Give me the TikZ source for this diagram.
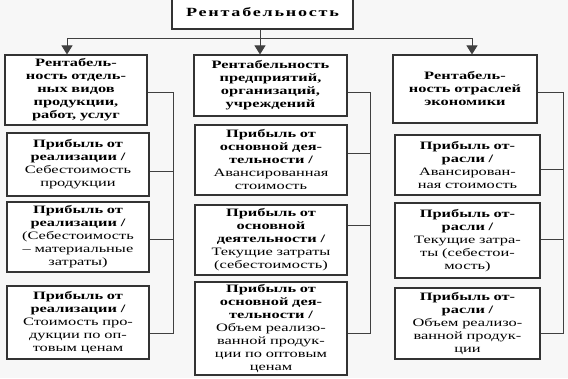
\documentclass[tikz,border=0pt]{standalone}
\usepackage{fontspec}
\setmainfont{Liberation Serif}[FakeStretch=1.45]
\usetikzlibrary{arrows.meta}
\tikzset{
  box/.style={draw=black!80, line width=1.1pt, fill=white, align=center,
    inner sep=1pt, font=\fontsize{11.3}{13}\selectfont\bfseries},
  link/.style={draw=black!75, line width=0.9pt},
  arr/.style={link, -{Triangle[width=11pt,length=9pt]}}
}
\begin{document}
\begin{tikzpicture}[x=1pt,y=-1pt]
  % поле рисунка
  \fill[black!3] (0,0) rectangle (568,378);
  \useasboundingbox (0,0) rectangle (568,378);
  % верхний блок
  \node[box, minimum width=181pt, minimum height=34pt,
    font=\fontsize{12.5}{14}\selectfont\bfseries\addfontfeature{LetterSpace=14}]
    (rent) at (262.5,12) {Рентабельность};
  % заголовки столбцов
  \node[box, text width=140pt, minimum height=70pt] (c1h) at (76,90)
    {Рентабель-\\ность отдель-\\ных видов\\продукции,\\работ, услуг};
  \node[box, text width=151pt, minimum height=61pt] (c2h) at (270.5,85.5)
    {Рентабельность\\предприятий,\\организаций,\\учреждений};
  \node[box, text width=142pt, minimum height=68pt] (c3h) at (465,89)
    {Рентабель-\\ность отраслей\\экономики};
  % столбец 1
  \node[box, text width=140pt, minimum height=63pt] (c1a) at (78,164.5)
    {Прибыль от\\реализации /\\\mdseries Себестоимость\\продукции};
  \node[box, text width=140pt, minimum height=70pt] (c1b) at (78,237)
    {Прибыль от\\реализации /\\\mdseries (Себестоимость\\– материальные\\затраты)};
  \node[box, text width=140pt, minimum height=73pt] (c1c) at (78,322.5)
    {Прибыль от\\реализации /\\\mdseries Стоимость про-\\дукции по оп-\\товым ценам};
  % столбец 2
  \node[box, text width=150pt, minimum height=70pt] (c2a) at (271,160)
    {Прибыль от\\основной дея-\\тельности /\\\mdseries Авансированная\\стоимость};
  \node[box, text width=150pt, minimum height=70pt] (c2b) at (271,240)
    {Прибыль от\\основной\\деятельности /\\\mdseries Текущие затраты\\(себестоимость)};
  \node[box, text width=150pt, minimum height=93pt] (c2c) at (271,328.5)
    {Прибыль от\\основной дея-\\тельности /\\\mdseries Объем реализо-\\ванной продук-\\ции по оптовым\\ценам};
  % столбец 3
  \node[box, text width=143pt, minimum height=60pt] (c3a) at (467.5,165)
    {Прибыль от-\\расли /\\\mdseries Авансирован-\\ная стоимость};
  \node[box, text width=143pt, minimum height=75pt] (c3b) at (467.5,240.5)
    {Прибыль от-\\расли /\\\mdseries Текущие затра-\\ты (себестои-\\мость)};
  \node[box, text width=143pt, minimum height=71pt] (c3c) at (467.5,323.5)
    {Прибыль от-\\расли /\\\mdseries Объем реализо-\\ванной продук-\\ции};
  % шина и стрелки
  \coordinate (bus1) at (67,38);
  \coordinate (bus2) at (260,38);
  \coordinate (bus3) at (472,38);
  \draw[link] (rent.south -| bus2) -- (bus2);
  \draw[link] (bus1) -- (bus3);
  \draw[arr] (bus1) -- (bus1 |- c1h.north);
  \draw[arr] (bus2) -- (bus2 |- c2h.north);
  \draw[arr] (bus3) -- (bus3 |- c3h.north);
  % боковые связи
  \coordinate (v1) at (173,92);
  \coordinate (v2) at (370,92);
  \coordinate (v3) at (563,92);
  \draw[link] (c1h.east |- v1) -- (v1) -- (v1 |- 0,333) -- (c1c.east |- 0,333);
  \draw[link] (c1a.east |- 0,171) -- (v1 |- 0,171);
  \draw[link] (c1b.east |- 0,239) -- (v1 |- 0,239);
  \draw[link] (c2h.east |- v2) -- (v2) -- (v2 |- 0,333) -- (c2c.east |- 0,333);
  \draw[link] (c2a.east |- 0,153) -- (v2 |- 0,153);
  \draw[link] (c2b.east |- 0,225) -- (v2 |- 0,225);
  \draw[link] (c3h.east |- v3) -- (v3) -- (v3 |- 0,333) -- (c3c.east |- 0,333);
  \draw[link] (c3a.east |- 0,169) -- (v3 |- 0,169);
  \draw[link] (c3b.east |- 0,239) -- (v3 |- 0,239);
\end{tikzpicture}
\end{document}
